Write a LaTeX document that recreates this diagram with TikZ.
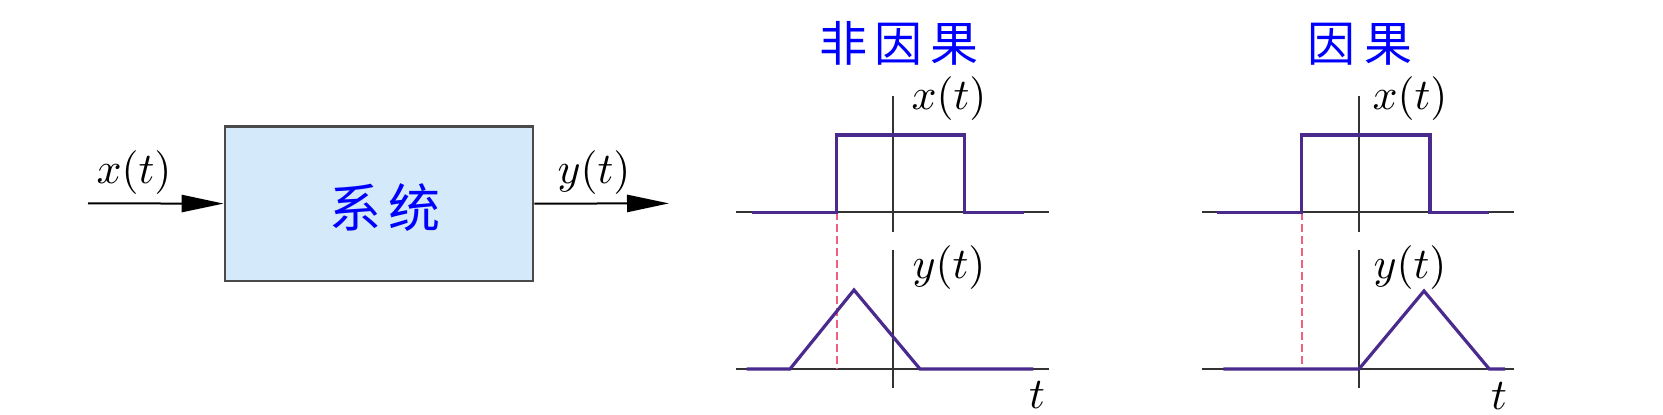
\documentclass[tikz,border=0pt]{standalone}
\usepackage{fontspec}
\newfontfamily\cjk{Noto Sans CJK SC}
\usetikzlibrary{arrows.meta}
\definecolor{boxfill}{HTML}{D4E9F9}
\definecolor{boxdraw}{HTML}{4A4A4A}
\definecolor{sig}{HTML}{4A2A8C}
\definecolor{axiscol}{HTML}{333333}
\definecolor{guide}{HTML}{F0607F}
\definecolor{cjkblue}{HTML}{0000FF}
\begin{document}
\begin{tikzpicture}[x=0.25pt,y=-0.25pt,
  sysbox/.style={draw=boxdraw,fill=boxfill,line width=0.7pt,minimum width=77pt,minimum height=38.7pt,inner sep=0pt},
  flow/.style={draw=black,line width=0.5pt,-{Triangle[length=10.5pt,width=4.3pt]}},
  axisline/.style={draw=axiscol,line width=0.45pt},
  signal/.style={draw=sig,line width=0.8pt,line join=miter},
  guideline/.style={draw=guide,line width=0.45pt,dash pattern=on 2pt off 1pt},
  lbl/.style={inner sep=0pt,font=\fontsize{11}{13}\selectfont},
  cjklbl/.style={inner sep=0pt,text=cjkblue,font=\cjk\fontsize{12}{14}\selectfont},
  cjkbig/.style={inner sep=0pt,text=cjkblue,font=\cjk\fontsize{13}{15}\selectfont}]
\useasboundingbox (0,0) rectangle (1663,415);
% system block
\node[sysbox] (sys) at (379,203.6) {};
\node[cjkbig] (systxt) at (385,208) {系\hspace{2pt}统};
\coordinate (in) at (88,203.4);
\coordinate (out) at (669,203.4);
\draw[flow] (in) -- (sys.west);
\draw[flow] (sys.east) -- (out);
\node[lbl] (xin) at (134,172.5) {$x(t)$};
\node[lbl] (yout) at (594,172.5) {$y(t)$};
% titles
\node[cjklbl] (t1) at (899,43) {非\hspace{2pt}因\hspace{2pt}果};
\node[cjklbl] (t2) at (1360,44) {因\hspace{2.5pt}果};
% ---------- non-causal ----------
\coordinate (a1l) at (736,212.3); \coordinate (a1r) at (1049.3,212.3);
\coordinate (v1t) at (893.3,95.7); \coordinate (v1b) at (893.3,232.3);
\coordinate (a2l) at (736,369); \coordinate (a2r) at (1049.3,369);
\coordinate (v2t) at (893.3,250); \coordinate (v2b) at (893.3,388.3);
\draw[axisline] (a1l) -- (a1r);
\draw[axisline] (v1t) -- (v1b);
\draw[axisline] (a2l) -- (a2r);
\draw[axisline] (v2t) -- (v2b);
\draw[guideline] (836.7,212.3) -- (836.7,369);
\draw[signal] (751.7,212.3) -- (836.7,212.3) -- (836.7,135) -- (964.3,135) -- (964.3,212.3) -- (1024,212.3);
\draw[signal] (746.7,369) -- (790,369) -- (854,290) -- (920,369) -- (1033.3,369);
\node[lbl] (x1) at (949,99) {$x(t)$};
\node[lbl] (y1) at (949,267.5) {$y(t)$};
\node[lbl] (t1l) at (1037,395) {$t$};
% ---------- causal ----------
\coordinate (b1l) at (1201.7,212.3); \coordinate (b1r) at (1514,212.3);
\coordinate (w1t) at (1359,95.7); \coordinate (w1b) at (1359,232.3);
\coordinate (b2l) at (1201.7,369); \coordinate (b2r) at (1514,369);
\coordinate (w2t) at (1359,250); \coordinate (w2b) at (1359,388.3);
\draw[axisline] (b1l) -- (b1r);
\draw[axisline] (w1t) -- (w1b);
\draw[axisline] (b2l) -- (b2r);
\draw[axisline] (w2t) -- (w2b);
\draw[guideline] (1301.7,212.3) -- (1301.7,369);
\draw[signal] (1216.7,212.3) -- (1301.7,212.3) -- (1301.7,135) -- (1430,135) -- (1430,212.3) -- (1489.3,212.3);
\draw[signal] (1223.3,369) -- (1359,369) -- (1424,291) -- (1489.3,369) -- (1505,369);
\node[lbl] (x2) at (1410,99) {$x(t)$};
\node[lbl] (y2) at (1410,267.5) {$y(t)$};
\node[lbl] (t2l) at (1499,396) {$t$};
\end{tikzpicture}
\end{document}
